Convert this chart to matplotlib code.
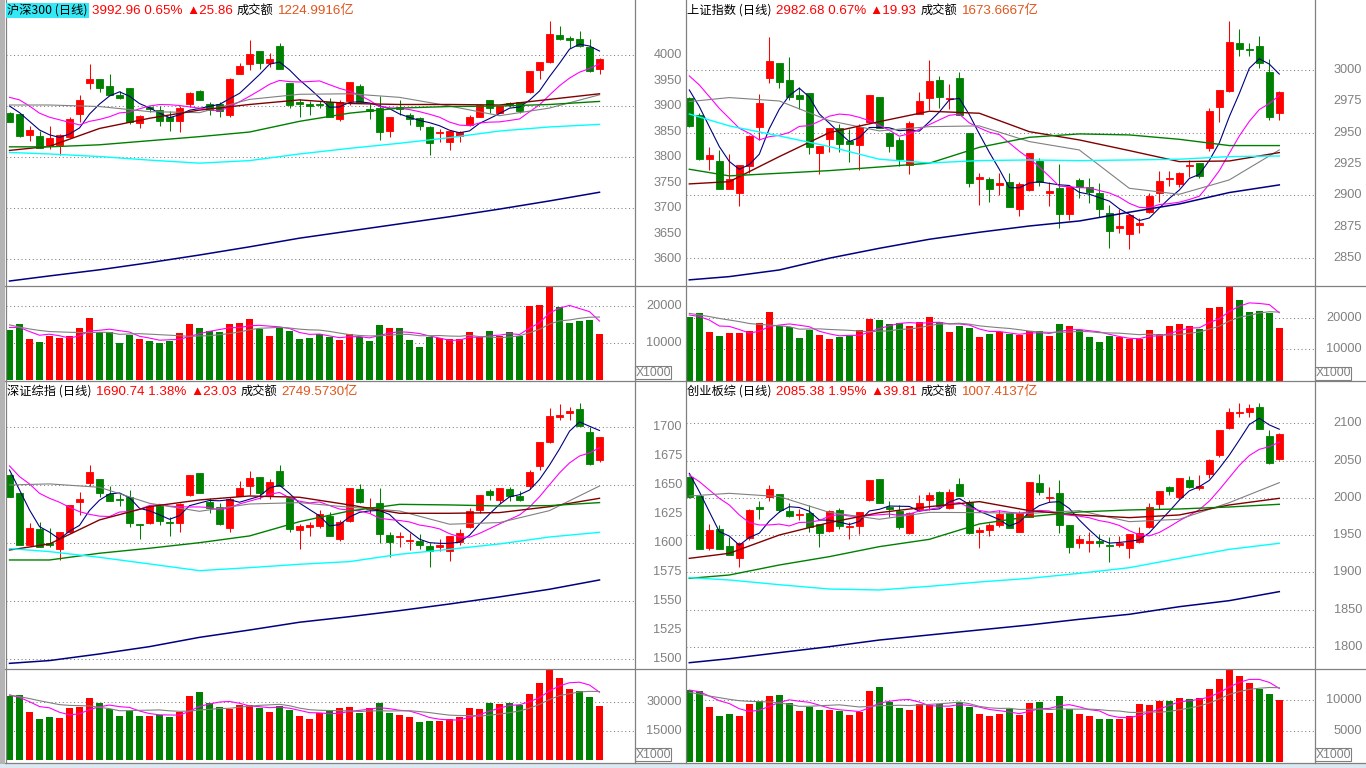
import numpy as np
import pandas as pd
import matplotlib
matplotlib.use("Agg")
import matplotlib.pyplot as plt
from matplotlib import transforms
from matplotlib.patches import Rectangle

plt.rcParams['font.family'] = ['Noto Sans CJK SC', 'DejaVu Sans']

RED = '#ff0000'
GREEN = '#008000'
GRAY = '#808080'
ORANGE = '#e0561c'
CJK = ['Noto Sans CJK SC', 'DejaVu Sans']
NUM = ['Liberation Sans', 'Noto Sans CJK SC', 'DejaVu Sans']

ma_days = [0, 4, 9, 14, 19, 24, 29, 34, 39, 44, 49, 54, 59]

# ---------------- 沪深300 ----------------
hs_open = [3886, 3885, 3843, 3841, 3821, 3823, 3839, 3885, 3946, 3953, 3939, 3921, 3936, 3866, 3898, 3892, 3878, 3871, 3904, 3930,
           3904, 3904, 3883, 3963, 3983, 4007, 3985, 4018, 3946, 3907, 3904, 3904, 3908, 3875, 3909, 3939, 3895, 3896, 3852, 3899,
           3883, 3877, 3858, 3847, 3830, 3842, 3863, 3879, 3911, 3887, 3905, 3907, 3928, 3971, 3986, 4040, 4034, 4032, 4015, 3972]
hs_high = [3889, 3886, 3860, 3852, 3861, 3845, 3878, 3922, 3983, 3953, 3963, 3930, 3936, 3883, 3900, 3900, 3890, 3900, 3928, 3932,
           3908, 3907, 3954, 3984, 4030, 4007, 4003, 4023, 3946, 3913, 3909, 3909, 3915, 3912, 3947, 3943, 3904, 3919, 3879, 3912,
           3886, 3879, 3861, 3854, 3853, 3851, 3883, 3904, 3912, 3900, 3908, 3907, 3969, 3986, 4067, 4057, 4037, 4047, 4031, 3994]
hs_low = [3868, 3840, 3832, 3817, 3815, 3804, 3837, 3869, 3934, 3928, 3922, 3914, 3865, 3856, 3889, 3861, 3852, 3850, 3899, 3911,
          3883, 3879, 3878, 3963, 3971, 3973, 3977, 3972, 3897, 3878, 3883, 3896, 3878, 3870, 3902, 3905, 3875, 3834, 3840, 3883,
          3863, 3853, 3804, 3830, 3813, 3830, 3860, 3879, 3886, 3886, 3899, 3887, 3925, 3953, 3984, 4030, 4013, 4015, 3966, 3963]
hs_close = [3869, 3841, 3853, 3817, 3838, 3843, 3875, 3912, 3953, 3936, 3922, 3916, 3869, 3881, 3894, 3871, 3871, 3897, 3926, 3911,
            3892, 3890, 3952, 3979, 4002, 3985, 3992, 3973, 3902, 3904, 3901, 3902, 3878, 3907, 3947, 3908, 3890, 3850, 3879, 3895,
            3874, 3861, 3828, 3849, 3851, 3849, 3879, 3902, 3896, 3900, 3902, 3890, 3969, 3986, 4041, 4032, 4029, 4018, 3968, 3992]
hs_vol = [13500, 15100, 11100, 10300, 11900, 11400, 12000, 14100, 16800, 12900, 12900, 10000, 12200, 11100, 10500, 10000, 10600, 12700, 15100, 14100,
          13300, 13000, 15100, 15400, 16500, 13900, 11900, 14100, 13200, 11100, 11400, 12300, 11600, 10800, 12400, 11600, 10500, 14900, 14100, 14100,
          10800, 8900, 11600, 11300, 11000, 11000, 13000, 11500, 13200, 11900, 13000, 11900, 20100, 20400, 25100, 19700, 15500, 15900, 16200, 12400]
hs_ma5_head = [3900, 3887, 3870, 3853]
hs_ma10_head = [3917, 3912, 3900, 3886, 3878, 3873, 3868, 3863, 3870]
hs_vma5_head = [14200, 14200, 13100, 12100]
hs_vma10_head = [14900, 14300, 13800, 13400, 13100, 13000, 12900, 12850, 12800]
hs_ma20 = [3902, 3902, 3899, 3889, 3887, 3913, 3923, 3924, 3917, 3900, 3881, 3896, 3922]
hs_ma30 = [3813, 3821, 3856, 3876, 3892, 3903, 3912, 3905, 3903, 3903, 3902, 3913, 3924]
hs_ma60 = [3820, 3820, 3824, 3832, 3840, 3849, 3870, 3886, 3896, 3899, 3900, 3903, 3909]
hs_ma120 = [3809, 3806, 3801, 3794, 3788, 3793, 3806, 3817, 3827, 3838, 3851, 3859, 3864]
hs_ma250 = [3557, 3567, 3579, 3593, 3608, 3624, 3641, 3655, 3669, 3683, 3698, 3714, 3731]

# ---------------- 上证指数 ----------------
sh_open = [2977.7, 2964.1, 2929.0, 2927.4, 2905.3, 2902.2, 2923.7, 2954.6, 2993.7, 3005.9, 2992.1, 2980.1, 2981.7, 2934.1, 2945.3, 2954.0, 2943.1, 2940.2, 2958.8, 2978.5,
           2949.5, 2944.4, 2924.2, 2964.7, 2977.7, 2992.1, 2976.6, 2993.7, 2949.8, 2913.3, 2913.1, 2908.0, 2910.7, 2889.4, 2904.3, 2927.7, 2902.2, 2905.9, 2885.4, 2912.3,
           2906.4, 2902.2, 2886.2, 2874.0, 2869.4, 2876.6, 2886.5, 2902.2, 2913.3, 2908.8, 2923.4, 2925.8, 2938.1, 2970.5, 2983.5, 3021.6, 3017.1, 3019.2, 2998.4, 2966.0]
sh_high = [2978.8, 2965.5, 2938.9, 2936.2, 2933.0, 2924.2, 2948.2, 2980.9, 3026.6, 3005.9, 3010.2, 2986.2, 2981.7, 2939.7, 2954.0, 2957.0, 2952.7, 2957.0, 2980.1, 2978.5,
           2950.8, 2946.3, 2959.6, 2982.8, 3008.0, 2995.5, 2988.9, 2998.4, 2949.8, 2917.8, 2914.9, 2917.6, 2917.8, 2910.9, 2933.8, 2929.8, 2910.9, 2925.0, 2906.9, 2913.9,
           2913.6, 2909.6, 2892.3, 2888.9, 2884.3, 2881.7, 2902.2, 2919.7, 2919.7, 2918.9, 2928.2, 2925.8, 2970.0, 2984.1, 3039.1, 3032.8, 3021.3, 3027.4, 3008.6, 2983.3]
sh_low = [2954.8, 2928.2, 2920.2, 2905.3, 2905.3, 2891.5, 2918.1, 2944.2, 2989.7, 2985.7, 2976.1, 2969.2, 2933.3, 2917.3, 2934.9, 2934.9, 2926.6, 2920.5, 2957.5, 2953.5,
          2934.6, 2923.7, 2917.3, 2964.7, 2968.1, 2969.4, 2969.2, 2964.1, 2906.9, 2892.0, 2894.4, 2900.3, 2891.0, 2883.8, 2903.8, 2907.7, 2891.8, 2874.2, 2880.3, 2898.2,
          2893.6, 2883.0, 2857.7, 2870.2, 2857.2, 2870.2, 2885.7, 2895.0, 2907.5, 2906.9, 2914.9, 2913.6, 2935.7, 2958.8, 2982.7, 3011.5, 3011.2, 3001.9, 2960.1, 2960.1]
sh_close = [2955.4, 2929.0, 2932.2, 2905.3, 2913.1, 2924.2, 2947.6, 2974.0, 3007.2, 2990.7, 2978.8, 2976.9, 2938.6, 2939.7, 2954.0, 2941.0, 2941.0, 2954.6, 2980.1, 2954.0,
            2939.7, 2929.3, 2957.8, 2975.3, 2991.3, 2978.8, 2977.7, 2964.1, 2910.1, 2914.4, 2905.3, 2909.9, 2891.0, 2909.1, 2933.8, 2910.4, 2903.2, 2885.4, 2906.4, 2906.4,
            2903.0, 2889.4, 2871.8, 2875.6, 2884.3, 2878.2, 2899.5, 2911.5, 2914.1, 2917.6, 2924.5, 2915.7, 2967.3, 2984.1, 3022.4, 3016.8, 3016.3, 3005.4, 2962.8, 2982.5]
sh_vol = [20100, 21400, 15500, 14200, 15200, 15200, 15700, 18400, 21800, 17400, 17000, 13600, 16100, 14600, 13300, 13900, 14300, 16100, 19600, 19200,
          18000, 18200, 17400, 18600, 20100, 18700, 15500, 17400, 16800, 13900, 14900, 15400, 15000, 14700, 15700, 15700, 14200, 18000, 17400, 16100,
          13900, 12300, 14200, 13900, 13300, 13300, 16100, 14900, 17400, 18000, 17400, 16500, 23100, 23400, 29700, 25600, 21800, 22200, 21600, 16800]
sh_ma5_head = [2984.1, 2970.8, 2954.8, 2938.9]
sh_ma10_head = [2995.3, 2988.1, 2978.8, 2969.4, 2961.5, 2953.5, 2949.5, 2944.2, 2946.8]
sh_vma5_head = [20900, 20400, 19300, 17400]
sh_vma10_head = [21400, 20900, 20400, 19800, 19300, 18800, 18200, 17900, 17700]
sh_ma20 = [2974.8, 2978.0, 2975.3, 2959.6, 2951.4, 2954.8, 2955.4, 2942.9, 2936.2, 2905.6, 2900.8, 2912.3, 2936.2]
sh_ma30 = [2909.1, 2910.9, 2930.9, 2950.0, 2958.8, 2967.1, 2965.5, 2950.8, 2944.2, 2935.7, 2926.9, 2927.4, 2934.1]
sh_ma60 = [2920.8, 2915.5, 2917.6, 2919.7, 2922.6, 2925.6, 2938.3, 2946.3, 2949.0, 2948.2, 2944.7, 2939.7, 2939.7]
sh_ma120 = [2964.9, 2955.4, 2947.4, 2938.9, 2928.8, 2925.8, 2927.7, 2928.2, 2927.7, 2928.2, 2928.8, 2930.9, 2931.4]
sh_ma250 = [2832.5, 2835.1, 2840.4, 2849.8, 2857.7, 2864.9, 2870.5, 2875.5, 2879.5, 2886.5, 2893.1, 2902.2, 2908.3]

# ---------------- 深证综指 ----------------
sz_open = [1658.4, 1642.9, 1598.4, 1611.9, 1600.1, 1594.7, 1609.6, 1635.4, 1651.8, 1655.0, 1641.8, 1637.7, 1639.8, 1616.2, 1617.4, 1631.7, 1618.2, 1617.4, 1641.2, 1659.8,
           1635.4, 1630.8, 1613.1, 1640.6, 1648.9, 1656.7, 1641.2, 1662.1, 1638.3, 1611.3, 1613.9, 1614.5, 1623.4, 1603.3, 1619.1, 1646.6, 1629.4, 1634.0, 1607.0, 1605.3,
           1601.9, 1601.9, 1597.6, 1596.7, 1593.0, 1601.0, 1613.4, 1628.3, 1644.6, 1636.9, 1646.4, 1640.3, 1649.2, 1666.2, 1686.5, 1708.6, 1711.5, 1715.2, 1695.4, 1671.3]
sz_high = [1659.0, 1642.9, 1616.8, 1618.2, 1612.5, 1609.3, 1632.6, 1643.8, 1667.0, 1655.0, 1648.9, 1641.8, 1645.5, 1616.2, 1631.7, 1632.6, 1622.5, 1634.0, 1658.4, 1659.8,
           1638.3, 1634.0, 1639.2, 1653.2, 1661.9, 1656.7, 1655.0, 1667.0, 1638.3, 1616.2, 1617.9, 1628.3, 1626.8, 1619.7, 1647.2, 1650.4, 1638.9, 1647.5, 1609.6, 1609.6,
           1608.8, 1607.6, 1599.6, 1603.3, 1605.9, 1611.6, 1630.3, 1641.2, 1646.4, 1647.2, 1648.4, 1644.6, 1662.7, 1686.8, 1715.8, 1719.5, 1716.7, 1720.7, 1700.0, 1691.1]
sz_low = [1639.2, 1598.4, 1598.4, 1596.7, 1596.7, 1585.2, 1608.8, 1624.0, 1648.9, 1639.8, 1636.3, 1631.7, 1613.9, 1603.6, 1616.2, 1615.4, 1606.2, 1609.6, 1640.6, 1643.2,
          1625.4, 1615.4, 1609.6, 1640.6, 1641.2, 1637.7, 1637.7, 1649.2, 1609.6, 1595.0, 1605.9, 1613.1, 1606.2, 1601.3, 1618.2, 1634.0, 1625.4, 1599.6, 1587.5, 1596.7,
          1593.8, 1594.4, 1579.5, 1593.3, 1584.4, 1598.1, 1612.5, 1625.4, 1636.9, 1634.0, 1636.0, 1636.0, 1646.4, 1662.7, 1685.7, 1705.8, 1705.8, 1700.9, 1667.0, 1669.9]
sz_close = [1639.2, 1598.4, 1613.1, 1596.7, 1598.4, 1609.3, 1632.6, 1638.0, 1661.0, 1642.6, 1636.3, 1636.6, 1617.4, 1615.6, 1631.7, 1619.1, 1617.4, 1633.1, 1658.4, 1643.2,
            1630.0, 1616.2, 1637.7, 1647.5, 1656.1, 1642.6, 1652.4, 1649.2, 1612.2, 1614.5, 1615.1, 1624.8, 1606.2, 1617.7, 1647.2, 1635.2, 1631.1, 1607.9, 1600.7, 1606.2,
            1602.5, 1598.1, 1593.0, 1597.9, 1605.9, 1608.2, 1627.4, 1641.2, 1641.2, 1647.2, 1640.6, 1636.9, 1661.0, 1686.8, 1709.2, 1710.1, 1713.2, 1700.9, 1668.2, 1691.1]
sz_vol = [33100, 33300, 24700, 21200, 22000, 21700, 26800, 27300, 31900, 29300, 26100, 22700, 25400, 22700, 22700, 23000, 22200, 24900, 32900, 35000,
          29200, 27100, 26400, 28300, 28300, 27000, 24700, 27600, 25800, 22700, 21200, 24100, 25400, 27000, 27300, 24100, 27000, 29300, 24400, 23200,
          22200, 19600, 20100, 20100, 21200, 22200, 26800, 26300, 29300, 28800, 29300, 28500, 34100, 39600, 46200, 42100, 36500, 35500, 32400, 27800]
sz_ma5_head = [1662.7, 1645.5, 1628.3, 1613.9]
sz_ma10_head = [1666.2, 1657.0, 1650.7, 1642.6, 1638.3, 1634.9, 1630.6, 1626.8, 1624.5]
sz_vma5_head = [33400, 32200, 30000, 27500]
sz_vma10_head = [33400, 32600, 31600, 30500, 29500, 28500, 28100, 28000, 27800]
sz_ma20 = [1649.8, 1650.7, 1647.8, 1634.0, 1627.1, 1633.4, 1634.6, 1630.6, 1627.4, 1616.0, 1617.4, 1627.7, 1648.9]
sz_ma30 = [1593.8, 1599.0, 1619.7, 1631.1, 1636.9, 1640.3, 1639.2, 1632.6, 1625.4, 1625.4, 1626.0, 1631.1, 1638.3]
sz_ma60 = [1585.2, 1585.2, 1591.0, 1595.3, 1600.1, 1605.9, 1618.2, 1627.4, 1633.1, 1632.6, 1631.7, 1632.0, 1634.6]
sz_ma120 = [1595.0, 1592.4, 1587.5, 1581.8, 1576.0, 1578.6, 1581.5, 1583.8, 1590.1, 1594.4, 1599.0, 1605.0, 1609.0]
sz_ma250 = [1496.2, 1498.6, 1504.3, 1510.6, 1518.6, 1524.9, 1531.6, 1536.4, 1541.6, 1547.3, 1553.4, 1560.0, 1568.0]

# ---------------- 创业板综 ----------------
cy_open = [2027.6, 2002.5, 1933.3, 1957.9, 1935.5, 1919.0, 1946.7, 1987.4, 2000.8, 2004.8, 1982.4, 1977.1, 1980.2, 1965.0, 1956.1, 1983.8, 1961.0, 1962.8, 1997.2, 2025.3,
           1987.4, 1982.4, 1953.4, 1985.1, 1997.2, 2007.9, 1986.9, 2018.6, 1994.5, 1954.7, 1956.5, 1963.7, 1979.3, 1954.7, 1974.8, 2019.5, 1999.4, 2006.1, 1963.7, 1939.1,
           1939.1, 1942.2, 1936.8, 1936.8, 1932.4, 1941.3, 1960.5, 1991.4, 2014.2, 2001.7, 2024.0, 2013.7, 2032.0, 2057.5, 2093.3, 2113.8, 2115.6, 2121.4, 2083.0, 2052.2]
cy_high = [2029.4, 2003.4, 1964.6, 1963.7, 1948.0, 1941.3, 1985.1, 1995.9, 2017.3, 2004.8, 1992.7, 1984.7, 1990.5, 1965.0, 1983.8, 1986.0, 1968.1, 1981.5, 2024.0, 2025.3,
           1995.9, 1990.5, 1981.5, 2003.9, 2008.4, 2009.7, 2011.5, 2027.1, 1997.2, 1961.4, 1966.8, 1983.8, 1979.3, 1982.4, 2021.8, 2032.0, 2014.2, 2024.0, 1963.7, 1949.8,
           1954.7, 1951.1, 1948.0, 1948.9, 1951.6, 1961.4, 1992.7, 2009.3, 2016.0, 2026.2, 2029.4, 2030.7, 2051.7, 2091.0, 2120.1, 2126.8, 2125.9, 2127.7, 2091.0, 2086.6]
cy_low = [1999.4, 1931.9, 1930.1, 1931.0, 1923.4, 1906.9, 1943.6, 1971.7, 1996.3, 1981.1, 1974.8, 1970.4, 1954.7, 1934.6, 1954.7, 1958.3, 1944.9, 1951.6, 1995.9, 1993.6,
          1974.8, 1957.9, 1951.6, 1982.9, 1983.8, 1988.3, 1984.7, 2002.5, 1951.6, 1933.3, 1949.4, 1961.4, 1959.2, 1954.7, 1973.9, 2003.9, 1995.0, 1952.5, 1926.6, 1932.4,
          1927.9, 1934.6, 1914.5, 1934.6, 1919.0, 1939.1, 1959.2, 1984.7, 2003.9, 1998.1, 2012.8, 2010.6, 2026.2, 2054.4, 2091.9, 2108.0, 2108.0, 2092.8, 2045.5, 2050.8]
cy_close = [2000.8, 1931.9, 1957.0, 1931.0, 1923.4, 1939.5, 1983.8, 1985.6, 2011.9, 1983.8, 1975.7, 1978.4, 1960.5, 1953.4, 1982.4, 1962.8, 1962.3, 1980.7, 2024.0, 1993.6,
            1984.7, 1961.0, 1979.3, 1992.7, 2003.4, 1989.6, 2007.5, 2002.5, 1953.4, 1957.0, 1963.2, 1978.4, 1959.2, 1980.2, 2021.8, 2008.3, 2000.8, 1963.7, 1934.6, 1944.4,
            1942.2, 1940.0, 1935.5, 1939.1, 1951.6, 1952.5, 1987.3, 2009.3, 2009.7, 2026.2, 2014.2, 2015.9, 2050.8, 2091.0, 2114.7, 2115.2, 2120.1, 2092.8, 2046.4, 2085.7]
cy_vol = [11600, 11500, 8870, 7420, 7740, 7420, 9350, 9780, 10640, 10800, 9570, 8230, 8870, 8390, 8390, 8230, 7580, 8060, 11450, 12100,
          9730, 8710, 8390, 9410, 9190, 9350, 8710, 9620, 8870, 7740, 7420, 7740, 8550, 7580, 9520, 9680, 7900, 10640, 8490, 7740,
          7420, 6940, 6940, 6940, 7420, 9350, 9190, 9840, 9840, 10320, 10160, 10320, 11770, 13390, 14840, 13870, 12740, 11770, 10970, 10000]
cy_ma5_head = [2032.9, 2008.4, 1981.5, 1954.7]
cy_ma10_head = [2030.7, 2021.8, 2010.6, 1999.4, 1990.5, 1977.1, 1966.8, 1963.7, 1963.7]
cy_vma5_head = [11600, 11340, 10640, 9890]
cy_vma10_head = [11240, 10970, 10640, 10380, 10110, 9890, 9780, 9730, 9680]
cy_ma20 = [2002.5, 2006.1, 2001.7, 1980.6, 1971.3, 1980.6, 1980.2, 1979.3, 1982.9, 1968.1, 1971.3, 1993.6, 2020.4]
cy_ma30 = [1918.9, 1925.7, 1950.2, 1966.8, 1980.2, 1988.2, 1995.0, 1982.9, 1977.1, 1973.5, 1977.1, 1990.5, 1999.4]
cy_ma60 = [1892.1, 1896.6, 1910.0, 1921.2, 1934.6, 1944.4, 1965.0, 1974.8, 1981.1, 1983.8, 1985.1, 1987.8, 1991.4]
cy_ma120 = [1893.0, 1889.9, 1883.6, 1877.8, 1876.5, 1881.4, 1887.2, 1892.1, 1898.8, 1906.4, 1918.9, 1931.0, 1939.1]
cy_ma250 = [1779.0, 1784.4, 1792.5, 1800.5, 1809.4, 1816.2, 1822.9, 1829.6, 1837.2, 1843.9, 1854.1, 1862.2, 1874.3]

# titles
hs_title = ["沪深300 (日线)", "3992.96 0.65%", "▲25.86", "成交额", "1224.9916亿"]
sh_title = ["上证指数 (日线)", "2982.68 0.67%", "▲19.93", "成交额", "1673.6667亿"]
sz_title = ["深证综指 (日线)", "1690.74 1.38%", "▲23.03", "成交额", "2749.5730亿"]
cy_title = ["创业板综 (日线)", "2085.38 1.95%", "▲39.81", "成交额", "1007.4137亿"]

W, H = 1366, 768
fig = plt.figure(figsize=(W / 100, H / 100), dpi=100)
fig.patch.set_facecolor('white')

over = fig.add_axes([0, 0, 1, 1], zorder=10)
over.set_xlim(0, W)
over.set_ylim(H, 0)
over.axis('off')


def box(x0, y0, x1, y1):
    return fig.add_axes([x0 / W, 1 - y1 / H, (x1 - x0) / W, (y1 - y0) / H])


def moving(values, n, head):
    s = pd.Series(values, dtype=float).rolling(n).mean().to_numpy()
    s[:len(head)] = head
    return s


def dotted(ax, levels):
    for lv in levels:
        ax.axhline(lv, color=GRAY, lw=0.75, ls=(0, (1, 2.6)), zorder=1)


def draw_panel(pbox, vbox, x0_day, ylim, vlim, o, h, l, c, v,
               ma5h, ma10h, vma5h, vma10h, longs, labels, grid, vlabels, lab_x, title, ty):
    o, h, l, c, v = map(np.asarray, (o, h, l, c, v))
    days = np.arange(len(c))
    cols = np.where(c >= o, RED, GREEN)

    px = box(*pbox)
    vx = box(*vbox)
    for ax in (px, vx):
        ax.axis('off')
        ax.set_xlim(x0_day, x0_day + (pbox[2] - pbox[0]) / 10)
    px.set_ylim(*ylim)
    vx.set_ylim(*vlim)

    dotted(px, grid)
    dotted(vx, vlabels)

    # candles
    px.vlines(days, l, h, colors=cols, lw=0.75, zorder=2)
    px.bar(days, np.abs(c - o), bottom=np.minimum(o, c), width=0.68,
           color=cols, edgecolor=cols, lw=0.6, zorder=3)

    # moving averages
    px.plot(days, moving(c, 5, ma5h), color='#000080', lw=0.8, zorder=4)
    px.plot(days, moving(c, 10, ma10h), color='#ff00ff', lw=0.8, zorder=4)
    styles = [('#808080', 0.8), ('#800000', 1.0), ('#008000', 1.0), ('#00ffff', 1.0), ('#000080', 1.1)]
    for vals, (col, lw) in zip(longs, styles):
        px.plot(ma_days, vals, color=col, lw=lw, zorder=4)

    # volume
    vx.bar(days, v, width=0.72, color=cols, lw=0, zorder=2)
    vx.plot(days, moving(v, 5, vma5h), color='#ff00ff', lw=0.8, zorder=4)
    vx.plot(days, moving(v, 10, vma10h), color='#808080', lw=0.8, zorder=4)

    # right-hand labels
    tp = transforms.blended_transform_factory(over.transData, px.transData)
    for lv in labels:
        over.text(lab_x, lv, f"{lv:g}", transform=tp, ha='right', va='center',
                  fontsize=9.2, color=GRAY, family=NUM)
    tv = transforms.blended_transform_factory(over.transData, vx.transData)
    for lv in vlabels:
        over.text(lab_x, lv, f"{lv:g}", transform=tv, ha='right', va='center',
                  fontsize=9.2, color=GRAY, family=NUM)
    bx = pbox[2] + 1
    over.add_patch(Rectangle((bx, vbox[3] - 14), 36, 13, fill=False, ec=GRAY, lw=0.8))
    over.text(bx + 18, vbox[3] - 7.5, "X1000", ha='center', va='center',
              fontsize=8.8, color=GRAY, family=NUM)

    # title row
    r = fig.canvas.get_renderer()
    x = pbox[0] + 1
    specs = [('black', CJK, 8.8), (RED, NUM, 9.6), (RED, NUM, 9.6), ('black', CJK, 8.8), (ORANGE, NUM, 9.6)]
    for k, (s, (col, fam, fs)) in enumerate(zip(title, specs)):
        t = over.text(x, ty, s, color=col, family=fam, fontsize=fs, va='baseline', ha='left')
        if k == 0 and pbox[0] < 100 and pbox[1] == 0:
            t.set_bbox(dict(boxstyle='square,pad=0.12', fc='#34e8f6', ec='none'))
        x += t.get_window_extent(renderer=r).width / (fig.dpi / 100) + 4


draw_panel((6, 0, 634, 285), (6, 285, 634, 380), -0.35, (3549.2, 4107.8), (0, 25680),
           hs_open, hs_high, hs_low, hs_close, hs_vol,
           hs_ma5_head, hs_ma10_head, hs_vma5_head, hs_vma10_head,
           [hs_ma20, hs_ma30, hs_ma60, hs_ma120, hs_ma250],
           range(3600, 4001, 50), range(3600, 4001, 100), [10000, 20000], 682, hs_title, 14)

draw_panel((686, 0, 1314, 285), (686, 285, 1314, 381), -0.33, (2828.4, 3055.9), (0, 30380),
           sh_open, sh_high, sh_low, sh_close, sh_vol,
           sh_ma5_head, sh_ma10_head, sh_vma5_head, sh_vma10_head,
           [sh_ma20, sh_ma30, sh_ma60, sh_ma120, sh_ma250],
           range(2850, 3001, 25), range(2850, 3001, 50), [10000, 20000], 1362, sh_title, 14)

draw_panel((6, 381, 634, 668), (6, 668, 634, 762), -0.35, (1492.2, 1739.3), (-870, 47250),
           sz_open, sz_high, sz_low, sz_close, sz_vol,
           sz_ma5_head, sz_ma10_head, sz_vma5_head, sz_vma10_head,
           [sz_ma20, sz_ma30, sz_ma60, sz_ma120, sz_ma250],
           range(1500, 1701, 25), range(1500, 1701, 50), [15000, 30000], 682, sz_title, 395)

draw_panel((686, 381, 1314, 668), (686, 668, 1314, 762), -0.33, (1771.9, 2156.7), (0, 15160),
           cy_open, cy_high, cy_low, cy_close, cy_vol,
           cy_ma5_head, cy_ma10_head, cy_vma5_head, cy_vma10_head,
           [cy_ma20, cy_ma30, cy_ma60, cy_ma120, cy_ma250],
           range(1800, 2101, 50), range(1800, 2101, 50), [5000, 10000], 1362, cy_title, 395)

# frame lines and window edges
over.add_patch(Rectangle((0, 0), 5, H, fc='#b4b4b4', ec='none'))
over.add_patch(Rectangle((0, 763.5), W, 5, fc='#dce8f2', ec='none'))
for xv in (5.5, 634.5, 685.5, 1314.5):
    over.plot([xv, xv], [0, 763], color=GRAY, lw=0.9)
for yv in (285.5, 380.5, 668.5, 763.0):
    over.plot([5, W], [yv, yv], color=GRAY, lw=0.9)

fig.savefig('out.png', dpi=100)
